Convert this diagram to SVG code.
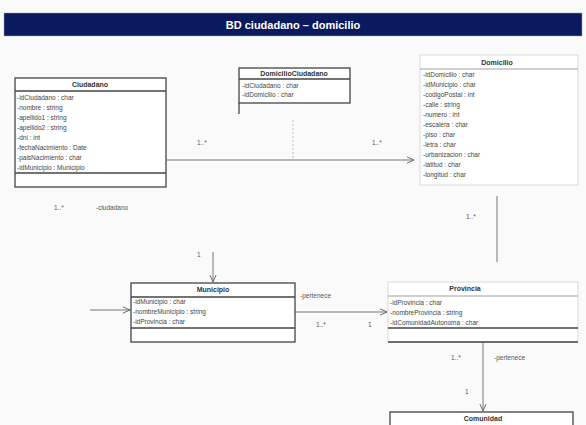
<svg xmlns="http://www.w3.org/2000/svg" width="586" height="425" viewBox="0 0 586 425">
<defs>
<style>
.box{fill:#ffffff;stroke:#444;stroke-width:1.3}
.faint{fill:#ffffff;stroke:#cfcfcf;stroke-width:0.8}
.sep{stroke:#444;stroke-width:1.3}
.sepl{stroke:#888;stroke-width:0.8}
.hd{font-family:"Liberation Sans",Arial,sans-serif;font-size:7px;font-weight:bold;fill:#333;text-anchor:middle}
.at{font-family:"Liberation Sans",Arial,sans-serif;font-size:6.5px;fill:#444}
.lb{font-family:"Liberation Sans",Arial,sans-serif;font-size:6.5px;fill:#555}
.ln{stroke:#777;stroke-width:1;fill:none}
</style>
<marker id="open" viewBox="0 0 10 10" refX="9" refY="5" markerWidth="8" markerHeight="8" orient="auto">
<path d="M0,1 L9,5 L0,9" fill="none" stroke="#666" stroke-width="1.2"/>
</marker>
</defs>
<rect width="586" height="425" fill="#fafafa"/>
<g id="title">
<rect x="4" y="13" width="578" height="23" fill="#0b1a5e" stroke="#9aa" stroke-width="0.5"/>
<text x="293" y="28.5" font-family="Liberation Sans,Arial,sans-serif" font-size="11" font-weight="bold" fill="#ffffff" text-anchor="middle">BD ciudadano – domicilio</text>
</g>
<g id="connectors">
<line class="ln" x1="166" y1="160" x2="414" y2="160" marker-end="url(#open)"/>
<line x1="293" y1="120" x2="293" y2="160" stroke="#bbb" stroke-width="1" stroke-dasharray="2,2"/>
<line class="ln" x1="497" y1="196" x2="497" y2="262"/>
<line class="ln" x1="213" y1="252" x2="213" y2="282" marker-end="url(#open)"/>
<line class="ln" x1="90" y1="310" x2="130" y2="310" marker-end="url(#open)"/>
<line class="ln" x1="295" y1="312" x2="387" y2="312" marker-end="url(#open)"/>
<line class="ln" x1="483" y1="342" x2="483" y2="411" marker-end="url(#open)"/>
<text class="lb" x="197" y="145">1..*</text>
<text class="lb" x="372" y="145">1..*</text>
<text class="lb" x="54" y="210">1..*</text>
<text class="lb" x="96" y="210">-ciudadano</text>
<text class="lb" x="466" y="219">1..*</text>
<text class="lb" x="197" y="257">1</text>
<text class="lb" x="300" y="298">-pertenece</text>
<text class="lb" x="316" y="327">1..*</text>
<text class="lb" x="368" y="327">1</text>
<text class="lb" x="451" y="360">1..*</text>
<text class="lb" x="494" y="360">-pertenece</text>
<text class="lb" x="465" y="394">1</text>
</g>
<g id="ciudadano">
<rect class="box" x="15" y="78" width="151" height="109"/>
<line class="sep" x1="15" y1="91" x2="166" y2="91"/>
<line class="sep" x1="15" y1="173" x2="166" y2="173"/>
<text class="hd" x="90" y="87">Ciudadano</text>
<text class="at" x="17" y="100">-idCiudadano : char</text>
<text class="at" x="17" y="110">-nombre : string</text>
<text class="at" x="17" y="120">-apellido1 : string</text>
<text class="at" x="17" y="130">-apellido2 : string</text>
<text class="at" x="17" y="140">-dni : int</text>
<text class="at" x="17" y="150">-fechaNacimiento : Date</text>
<text class="at" x="17" y="160">-paisNacimiento : char</text>
<text class="at" x="17" y="170">-idMunicipio : Municipio</text>
</g>
<g id="domicilioCiudadano">
<rect class="box" x="239" y="68" width="111" height="35"/>
<line class="sep" x1="239" y1="79" x2="350" y2="79"/>
<line class="sep" x1="239" y1="103" x2="239" y2="114"/>
<text class="hd" x="294" y="76">DomicilioCiudadano</text>
<text class="at" x="242" y="88">-idCiudadano : char</text>
<text class="at" x="242" y="97">-idDomicilio : char</text>
</g>
<g id="domicilio">
<rect class="faint" x="420" y="55" width="158" height="130"/>
<line class="sepl" x1="420" y1="69" x2="578" y2="69"/>
<text class="hd" x="497" y="65">Domicilio</text>
<text class="at" x="423" y="77">-idDomicilio : char</text>
<text class="at" x="423" y="87">-idMunicipio : char</text>
<text class="at" x="423" y="97">-codigoPostal : int</text>
<text class="at" x="423" y="107">-calle : string</text>
<text class="at" x="423" y="117">-numero : int</text>
<text class="at" x="423" y="127">-escalera : char</text>
<text class="at" x="423" y="137">-piso : char</text>
<text class="at" x="423" y="147">-letra : char</text>
<text class="at" x="423" y="157">-urbanizacion : char</text>
<text class="at" x="423" y="167">-latitud : char</text>
<text class="at" x="423" y="177">-longitud : char</text>
</g>
<g id="municipio">
<rect class="box" x="131" y="283" width="164" height="59"/>
<line class="sep" x1="131" y1="297" x2="295" y2="297"/>
<line class="sep" x1="131" y1="328" x2="295" y2="328"/>
<text class="hd" x="213" y="292">Municipio</text>
<text class="at" x="133" y="304">-idMunicipio : char</text>
<text class="at" x="133" y="314">-nombreMunicipio : string</text>
<text class="at" x="133" y="324">-idProvincia : char</text>
</g>
<g id="provincia">
<rect class="faint" x="388" y="282" width="190" height="60"/>
<line class="sepl" x1="388" y1="296" x2="578" y2="296"/>
<line class="sep" x1="388" y1="328" x2="578" y2="328"/>
<line class="sep" x1="388" y1="342" x2="578" y2="342"/>
<text class="hd" x="465" y="291">Provincia</text>
<text class="at" x="390" y="305">-idProvincia : char</text>
<text class="at" x="390" y="315">-nombreProvincia : string</text>
<text class="at" x="390" y="325">-idComunidadAutonoma : char</text>
</g>
<g id="comunidad">
<rect class="box" x="390" y="412" width="183" height="20"/>
<text class="hd" x="483" y="421">Comunidad</text>
</g>
</svg>
